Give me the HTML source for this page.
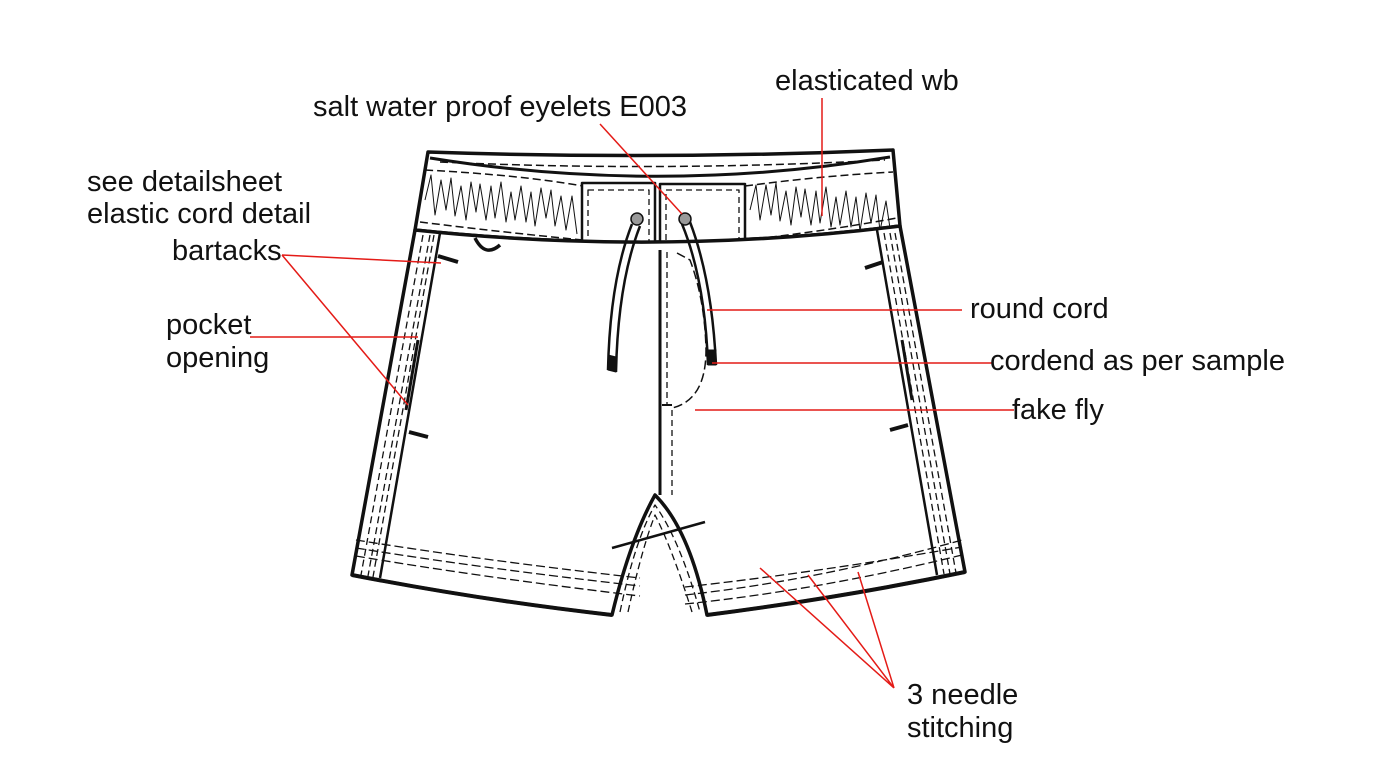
<!DOCTYPE html>
<html><head><meta charset="utf-8"><style>
html,body{margin:0;padding:0;background:#fff;}
svg{display:block}
text{font-family:"Liberation Sans",Arial,sans-serif;font-size:29px;fill:#111;}
</style></head><body>
<svg width="1383" height="773" viewBox="0 0 1383 773" xmlns="http://www.w3.org/2000/svg">
<g fill="none" stroke="#111" stroke-linejoin="round">
<path d="M428,152 Q660,160 893,150 L900,226 Q660,256 415,230 Z" fill="#fff" stroke-width="3.5"/>
<path d="M430,158 Q660,195 890,157" stroke-width="3"/>
<path d="M440,162 Q660,172 885,160" stroke-dasharray="8,4" stroke-width="1.5"/>
<path d="M425,170 Q520,175 583,186" stroke-dasharray="8,4" stroke-width="1.5"/>
<path d="M745,186 Q820,176 893,172" stroke-dasharray="8,4" stroke-width="1.5"/>
<path d="M420,222 Q500,232 583,240" stroke-dasharray="8,4" stroke-width="1.5"/>
<path d="M745,240 Q820,232 897,218" stroke-dasharray="8,4" stroke-width="1.5"/>
<path d="M425,200 l6,-25 l4,40 l6,-35 l5,30 l5,-32 l4,38 l6,-30 l5,34 l5,-38 l5,30 l4,-28 l6,36 l5,-34 l4,32 l6,-36 l5,40 l5,-30 l4,28 l6,-34 l5,36 l5,-30 l4,34 l6,-38 l5,30 l5,-28 l4,36 l6,-30 l5,34 l6,-34 l5,38" stroke-width="1"/>
<path d="M750,210 l6,-25 l4,35 l6,-35 l5,30 l5,-32 l4,38 l6,-30 l5,34 l5,-38 l5,30 l4,-28 l6,36 l5,-34 l4,32 l6,-36 l5,40 l5,-30 l4,28 l6,-34 l5,36 l5,-30 l4,34 l6,-38 l5,30 l5,-28 l4,36 l6,-30 l5,34" stroke-width="1"/>
<rect x="582" y="183" width="73" height="65" fill="#fff" stroke-width="2.5"/>
<rect x="660" y="184" width="85" height="64" fill="#fff" stroke-width="2.5"/>
<rect x="588" y="190" width="61" height="52" stroke-dasharray="6,4" stroke-width="1.3"/>
<rect x="666" y="190" width="73" height="52" stroke-dasharray="6,4" stroke-width="1.3"/>
<circle cx="637" cy="219" r="6" fill="#999" stroke-width="1.5"/>
<circle cx="685" cy="219" r="6" fill="#999" stroke-width="1.5"/>
<path d="M415,230 L352,575 Q480,600 612,615 Q630,540 655,495 Q690,530 707,615 Q840,598 965,572 L900,226 Q660,256 415,230 Z" fill="#fff" stroke-width="3.5"/>
<path d="M440,233 L380,578" stroke-width="2.5"/>
<path d="M877,230 L937,575" stroke-width="2.5"/>
<path d="M423,235 L361,575 M430,235 L368,576 M434,235 L373,577" stroke-dasharray="7,4" stroke-width="1.3"/>
<path d="M884,233 L944,574 M890,233 L950,574 M895,233 L956,573" stroke-dasharray="7,4" stroke-width="1.3"/>
<path d="M356,540 Q480,560 640,578 M356,548 Q480,568 640,586 M356,556 Q480,577 640,596" stroke-dasharray="9,4" stroke-width="1.3"/>
<path d="M685,595 Q820,580 962,540 M685,587 Q820,572 962,547 M685,604 Q820,590 962,555" stroke-dasharray="9,4" stroke-width="1.3"/>
<path d="M352,575 Q480,600 612,615 M707,615 Q840,598 965,572" stroke-width="4"/>
<path d="M660,250 L660,495" stroke-width="3"/>
<path d="M667,252 L667,405 M672,410 L672,495" stroke-dasharray="6,4" stroke-width="1.3"/>
<path d="M677,253 L690,260 Q705,300 706,350 Q706,400 672,408" stroke-dasharray="9,4" stroke-width="1.5"/>
<path d="M662,405 l10,0" stroke-width="2"/>
<path d="M620,612 Q635,540 655,505 Q680,540 700,612 M628,612 Q642,548 655,515 Q672,548 692,612" stroke-dasharray="7,4" stroke-width="1.3"/>
<path d="M612,548 L705,522" stroke-width="2.5"/>
<path d="M632,224 Q610,280 608,370 M640,226 Q618,282 616,372" stroke-width="2.5"/>
<path d="M682,224 Q705,280 708,365 M690,222 Q712,280 716,365" stroke-width="2.5"/>
<path d="M608,355 L616,357 L616,372 L608,370 Z" fill="#111"/>
<path d="M708,350 L716,350 L716,365 L708,365 Z" fill="#111"/>
<path d="M475,238 Q485,258 500,245" stroke-width="3.5"/>
<path d="M438,256 L458,262 M409,432 L428,437 M883,262 L865,268 M908,425 L890,430" stroke-width="4"/>
<path d="M418,340 L406,410 M902,340 L912,400" stroke-width="3"/>
</g>
<g stroke="#e41b17" stroke-width="1.5" fill="none">
<path d="M600,124 L682,214"/>
<path d="M822,98 L822,216"/>
<path d="M282,255 L441,263 M282,255 L408,405"/>
<path d="M250,337 L418,337"/>
<path d="M707,310 L962,310"/>
<path d="M712,363 L992,363"/>
<path d="M695,410 L1014,410"/>
<path d="M894,688 L760,568 M894,688 L808,575 M894,688 L858,572"/>
</g>
<text x="313" y="116">salt water proof eyelets E003</text>
<text x="775" y="90">elasticated wb</text>
<text x="87" y="191">see detailsheet</text>
<text x="87" y="223">elastic cord detail</text>
<text x="172" y="260">bartacks</text>
<text x="166" y="334">pocket</text>
<text x="166" y="367">opening</text>
<text x="970" y="318">round cord</text>
<text x="990" y="370">cordend as per sample</text>
<text x="1012" y="419">fake fly</text>
<text x="907" y="704">3 needle</text>
<text x="907" y="737">stitching</text>
</svg>
</body></html>
